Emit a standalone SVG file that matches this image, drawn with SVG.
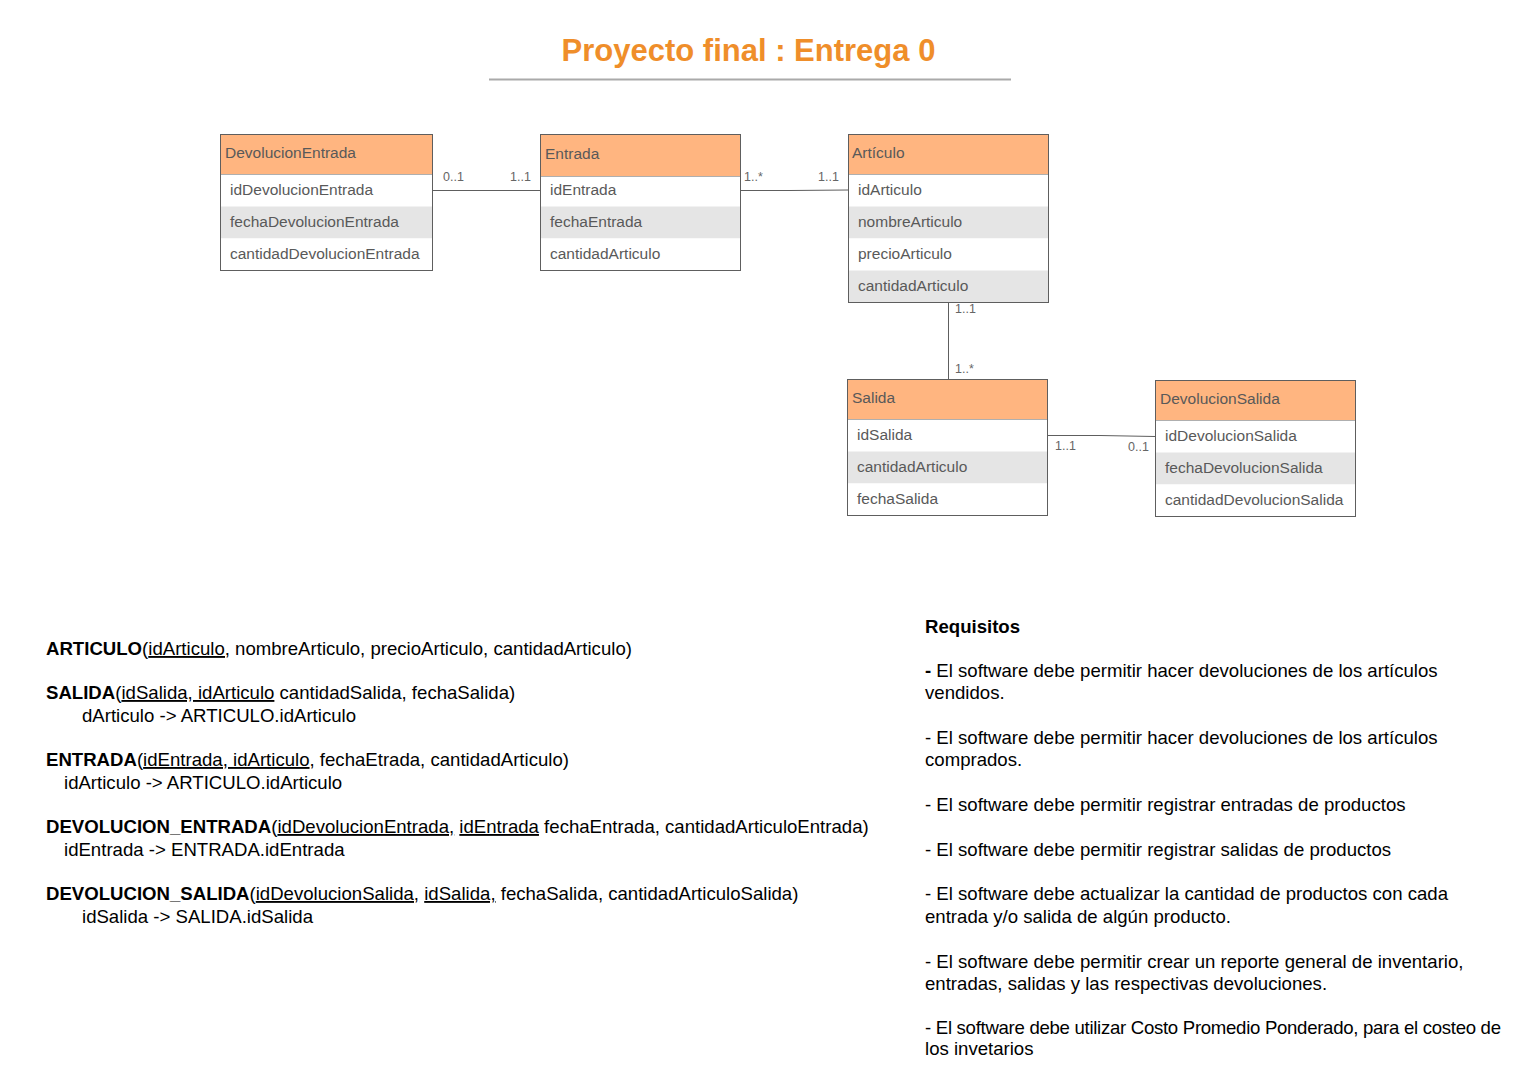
<svg xmlns="http://www.w3.org/2000/svg" width="1536" height="1078" viewBox="0 0 1536 1078">
<style>
.hdr{fill:#FFB580;stroke:#5e5e5e;stroke-width:1}
.box{fill:none;stroke:#5e5e5e;stroke-width:1}
.alt{fill:#E5E5E5}
.row{fill:#ffffff}
.t{font-family:"Liberation Sans",Arial,sans-serif;font-size:15.5px;fill:#595959}
.m{font-family:"Liberation Sans",Arial,sans-serif;font-size:12.5px;fill:#666666}
.c{stroke:#5e5e5e;stroke-width:1;fill:none}
.b{font-family:"Liberation Sans",Arial,sans-serif;font-size:18.6px;fill:#000000}
.u{text-decoration:underline}
.bd{font-weight:bold}
</style>
<rect width="1536" height="1078" fill="#ffffff"/>
<g id="title">
<text x="748.5" y="61" text-anchor="middle" font-family="Liberation Sans, Arial, sans-serif" font-size="31" font-weight="bold" fill="#EF8E2A">Proyecto final : Entrega 0</text>
<line x1="489" y1="79.5" x2="1011" y2="79.5" stroke="#aaaaaa" stroke-width="2"/>
</g>
<g id="connectors">
<line class="c" x1="432" y1="190.5" x2="540" y2="190.5"/>
<text class="m" x="443" y="181">0..1</text>
<text class="m" x="510" y="181">1..1</text>
<polyline class="c" points="740,190.5 790,190.5 848,190"/>
<text class="m" x="744" y="181">1..*</text>
<text class="m" x="818" y="181">1..1</text>
<line class="c" x1="948.5" y1="302" x2="948.5" y2="379"/>
<text class="m" x="955" y="313">1..1</text>
<text class="m" x="955" y="373">1..*</text>
<polyline class="c" points="1047,435.5 1100,435.5 1155,436.5"/>
<text class="m" x="1055" y="450">1..1</text>
<text class="m" x="1128" y="451">0..1</text>
</g>
<g id="DevolucionEntrada">
<rect class="hdr" x="220.5" y="134.5" width="212" height="40"/>
<rect class="row" x="220.5" y="174.5" width="212" height="32"/>
<rect class="alt" x="220.5" y="206.5" width="212" height="32"/>
<rect class="row" x="220.5" y="238.5" width="212" height="32"/>
<rect class="box" x="220.5" y="134.5" width="212" height="136"/>
<text class="t" x="225" y="158">DevolucionEntrada</text>
<text class="t" x="230" y="195">idDevolucionEntrada</text>
<text class="t" x="230" y="227">fechaDevolucionEntrada</text>
<text class="t" x="230" y="259">cantidadDevolucionEntrada</text>
</g>
<g id="Entrada">
<rect class="hdr" x="540.5" y="134.5" width="200" height="42"/>
<rect class="row" x="540.5" y="176.5" width="200" height="30"/>
<rect class="alt" x="540.5" y="206.5" width="200" height="32"/>
<rect class="row" x="540.5" y="238.5" width="200" height="32"/>
<rect class="box" x="540.5" y="134.5" width="200" height="136"/>
<text class="t" x="545" y="159">Entrada</text>
<text class="t" x="550" y="195">idEntrada</text>
<text class="t" x="550" y="227">fechaEntrada</text>
<text class="t" x="550" y="259">cantidadArticulo</text>
</g>
<g id="Articulo">
<rect class="hdr" x="848.5" y="134.5" width="200" height="40"/>
<rect class="row" x="848.5" y="174.5" width="200" height="32"/>
<rect class="alt" x="848.5" y="206.5" width="200" height="32"/>
<rect class="row" x="848.5" y="238.5" width="200" height="32"/>
<rect class="alt" x="848.5" y="270.5" width="200" height="32"/>
<rect class="box" x="848.5" y="134.5" width="200" height="168"/>
<text class="t" x="852" y="158">Artículo</text>
<text class="t" x="858" y="195">idArticulo</text>
<text class="t" x="858" y="227">nombreArticulo</text>
<text class="t" x="858" y="259">precioArticulo</text>
<text class="t" x="858" y="291">cantidadArticulo</text>
</g>
<g id="Salida">
<rect class="hdr" x="847.5" y="379.5" width="200" height="40"/>
<rect class="row" x="847.5" y="419.5" width="200" height="32"/>
<rect class="alt" x="847.5" y="451.5" width="200" height="32"/>
<rect class="row" x="847.5" y="483.5" width="200" height="32"/>
<rect class="box" x="847.5" y="379.5" width="200" height="136"/>
<text class="t" x="852" y="403">Salida</text>
<text class="t" x="857" y="440">idSalida</text>
<text class="t" x="857" y="472">cantidadArticulo</text>
<text class="t" x="857" y="504">fechaSalida</text>
</g>
<g id="DevolucionSalida">
<rect class="hdr" x="1155.5" y="380.5" width="200" height="40"/>
<rect class="row" x="1155.5" y="420.5" width="200" height="32"/>
<rect class="alt" x="1155.5" y="452.5" width="200" height="32"/>
<rect class="row" x="1155.5" y="484.5" width="200" height="32"/>
<rect class="box" x="1155.5" y="380.5" width="200" height="136"/>
<text class="t" x="1160" y="404">DevolucionSalida</text>
<text class="t" x="1165" y="441">idDevolucionSalida</text>
<text class="t" x="1165" y="473">fechaDevolucionSalida</text>
<text class="t" x="1165" y="505">cantidadDevolucionSalida</text>
</g>
<g id="schema">
<text class="b" x="46" y="655"><tspan class="bd">ARTICULO</tspan>(<tspan class="u">idArticulo,</tspan> nombreArticulo, precioArticulo, cantidadArticulo)</text>
<text class="b" x="46" y="699"><tspan class="bd">SALIDA</tspan>(<tspan class="u">idSalida, idArticulo</tspan> cantidadSalida, fechaSalida)</text>
<text class="b" x="82" y="722">dArticulo -&gt; ARTICULO.idArticulo</text>
<text class="b" x="46" y="766"><tspan class="bd">ENTRADA</tspan>(<tspan class="u">idEntrada, idArticulo</tspan>, fechaEtrada, cantidadArticulo)</text>
<text class="b" x="64" y="789">idArticulo -&gt; ARTICULO.idArticulo</text>
<text class="b" x="46" y="833"><tspan class="bd">DEVOLUCION_ENTRADA</tspan>(<tspan class="u">idDevolucionEntrada,</tspan> <tspan class="u">idEntrada</tspan> fechaEntrada, cantidadArticuloEntrada)</text>
<text class="b" x="64" y="856">idEntrada -&gt; ENTRADA.idEntrada</text>
<text class="b" x="46" y="900"><tspan class="bd">DEVOLUCION_SALIDA</tspan>(<tspan class="u">idDevolucionSalida,</tspan> <tspan class="u">idSalida,</tspan> fechaSalida, cantidadArticuloSalida)</text>
<text class="b" x="82" y="923">idSalida -&gt; SALIDA.idSalida</text>
</g>
<g id="requisitos">
<text class="b bd" x="925" y="633">Requisitos</text>
<text class="b" x="925" y="677"><tspan class="bd">-</tspan> El software debe permitir hacer devoluciones de los artículos</text>
<text class="b" x="925" y="699">vendidos.</text>
<text class="b" x="925" y="744">- El software debe permitir hacer devoluciones de los artículos</text>
<text class="b" x="925" y="766">comprados.</text>
<text class="b" x="925" y="811">- El software debe permitir registrar entradas de productos</text>
<text class="b" x="925" y="856">- El software debe permitir registrar salidas de productos</text>
<text class="b" x="925" y="900">- El software debe actualizar la cantidad de productos con cada</text>
<text class="b" x="925" y="923">entrada y/o salida de algún producto.</text>
<text class="b" x="925" y="968">- El software debe permitir crear un reporte general de inventario,</text>
<text class="b" x="925" y="990">entradas, salidas y las respectivas devoluciones.</text>
<text class="b" x="925" y="1034" textLength="576" lengthAdjust="spacing">- El software debe utilizar Costo Promedio Ponderado, para el costeo de</text>
<text class="b" x="925" y="1055">los invetarios</text>
</g>
</svg>
